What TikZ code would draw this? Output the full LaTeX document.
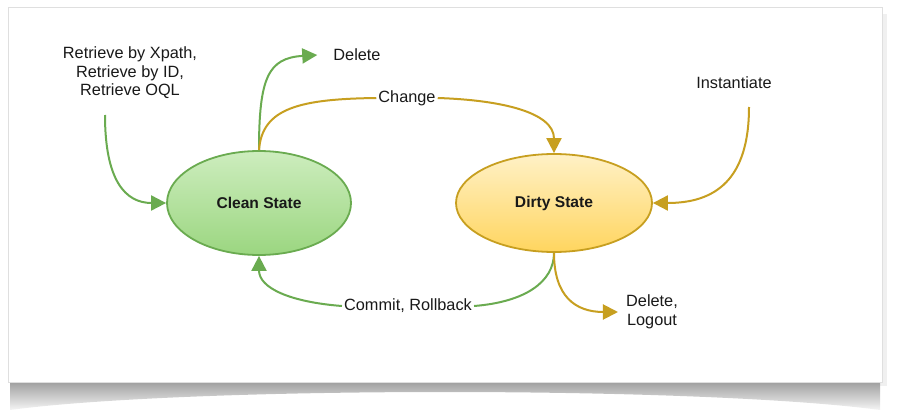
\documentclass[tikz,border=0pt]{standalone}
\usepackage{fontspec}
\setmainfont{Liberation Sans}
\usetikzlibrary{shapes.geometric,arrows.meta}
\definecolor{gline}{HTML}{6AAB50}
\definecolor{yline}{HTML}{C79F20}
\definecolor{gtop}{HTML}{CDEDBE}
\definecolor{gbot}{HTML}{9BD680}
\definecolor{ytop}{HTML}{FFF1C6}
\definecolor{ybot}{HTML}{FFD55F}
\tikzset{
  lbl/.style={font=\fontsize{16.3}{18.5}\selectfont, text=black!90, inner sep=2pt, align=center},
  state/.style={ellipse, inner sep=0pt, line width=1.8pt, font=\fontsize{15.6}{18}\selectfont\bfseries, text=black!90},
  garrow/.style={draw=gline, line width=2pt, -{Triangle[length=15pt,width=15pt]}},
  yarrow/.style={draw=yline, line width=2pt, -{Triangle[length=15pt,width=15pt]}},
  gline/.style={draw=gline, line width=2pt},
  yline/.style={draw=yline, line width=2pt},
}
\begin{document}
\begin{tikzpicture}[x=1pt,y=-1pt]
\useasboundingbox (0,0) rectangle (900,420);
% card shadow and card
\fill[gray!12] (14,14) rectangle (887,386);
\shade[top color=gray!75, bottom color=gray!8] (10,382) -- (880,382) -- (880,410) .. controls (700,386) and (190,386) .. (10,410) -- cycle;
\filldraw[fill=white, draw=gray!25, line width=0.8pt] (8,7) rectangle (882,382);

% states
\node[state, minimum width=184pt, minimum height=104pt, draw=gline, top color=gtop, bottom color=gbot] (clean) at (259,203) {Clean State};
\node[state, minimum width=196pt, minimum height=98pt, draw=yline, top color=ytop, bottom color=ybot] (dirty) at (554,203) {Dirty State};

% labels
\node[lbl] (retr) at (130,73) {Retrieve by Xpath,\\Retrieve by ID,\\Retrieve OQL};
\node[lbl] (del) at (357,55) {Delete};
\node[lbl] (change) at (407,98) {Change};
\node[lbl] (inst) at (734,83) {Instantiate};
\node[lbl] (commit) at (408,306) {Commit, Rollback};
\node[lbl] (dl) at (652,312) {Delete,\\Logout};

\coordinate (r1) at (105,115);
\coordinate (i1) at (749,107);

% connectors
\draw[garrow] (r1) .. controls (105,180) and (125,203) .. (clean.west);
\draw[garrow] (clean.north) .. controls (259,78) and (268,58) .. ([xshift=-14pt]del.west);
\draw[yline] (clean.north) .. controls (262,108) and (300,99) .. (change.west);
\draw[yarrow] (change.east) .. controls (500,100) and (554,112) .. (dirty.north);
\draw[yarrow] (i1) .. controls (749,180) and (715,203) .. (dirty.east);
\draw[gline] (dirty.south) .. controls (554,282) and (525,302) .. (commit.east);
\draw[garrow] (commit.west) .. controls (290,302) and (259,288) .. (clean.south);
\draw[yarrow] (dirty.south) .. controls (554,296) and (575,312) .. ([xshift=-6pt]dl.west);
\end{tikzpicture}
\end{document}
